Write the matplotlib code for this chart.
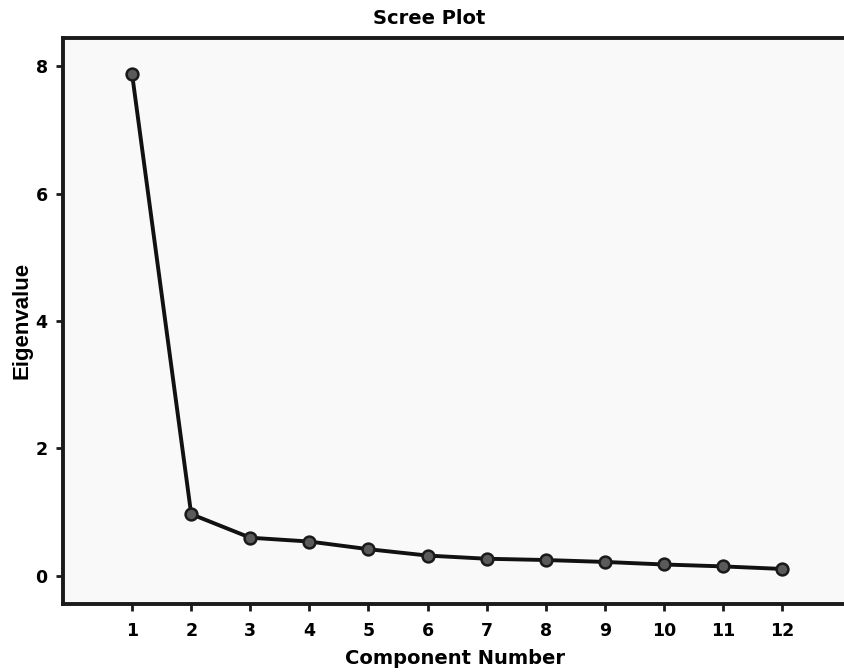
import matplotlib
matplotlib.use("Agg")
import matplotlib.pyplot as plt

# --- DATA ---
components = [1, 2, 3, 4, 5, 6, 7, 8, 9, 10, 11, 12]
eigenvalues = [7.87, 0.97, 0.60, 0.54, 0.42, 0.32, 0.27, 0.25, 0.22, 0.18, 0.15, 0.11]
y_ticks = [0, 2, 4, 6, 8]

# --- FIGURE ---
fig = plt.figure(figsize=(8.44, 6.72), dpi=100)
ax = fig.add_axes([63 / 844, 68 / 672, 1.0 - 63 / 844, 566 / 672])
ax.set_facecolor("#f9f9f9")

ax.plot(components, eigenvalues, color="#111111", lw=2.8, zorder=2)
ax.plot(components, eigenvalues, ls="none", marker="o", ms=8.5,
        mfc="#5a5a5a", mec="#1a1a1a", mew=1.8, zorder=3)

ax.set_xlim(-0.17, 13.05)
ax.set_ylim(-0.44, 8.44)
ax.set_xticks(components)
ax.set_yticks(y_ticks)

for s in ["left", "bottom", "top"]:
    ax.spines[s].set_linewidth(2.8)
    ax.spines[s].set_color("#1a1a1a")
ax.spines["right"].set_visible(False)

ax.tick_params(axis="both", direction="out", length=5, width=2, color="#1a1a1a",
               labelsize=12.5, pad=6)
for lbl in ax.get_xticklabels() + ax.get_yticklabels():
    lbl.set_fontweight("bold")
ax.tick_params(axis="x", pad=8)

# --- TEXT ---
fig.text(429 / 844, 1 - 18 / 672, "Scree Plot", ha="center", va="center",
         fontsize=14, fontweight="bold")
fig.text(455 / 844, 1 - 658 / 672, "Component Number", ha="center", va="center",
         fontsize=14, fontweight="bold")
fig.text(22 / 844, 1 - 320 / 672, "Eigenvalue", ha="center", va="center",
         rotation=90, fontsize=16, fontweight="bold", family="Liberation Sans")

fig.savefig("out.png", dpi=100)
